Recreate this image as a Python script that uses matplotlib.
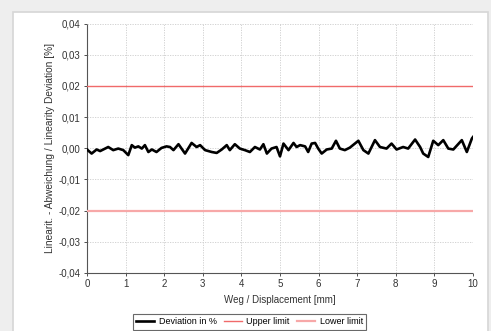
import matplotlib
matplotlib.use("Agg")
import matplotlib.pyplot as plt
from matplotlib.patches import Rectangle
from matplotlib.ticker import FuncFormatter

# Data
disp_mm = [0.00, 0.12, 0.25, 0.34, 0.47, 0.55, 0.68, 0.81, 0.94, 1.07, 1.16, 1.24, 1.33, 1.42,
           1.50, 1.59, 1.68, 1.80, 1.93, 2.06, 2.15, 2.24, 2.37, 2.54, 2.71, 2.84, 2.93, 3.06,
           3.23, 3.36, 3.49, 3.62, 3.70, 3.83, 3.96, 4.09, 4.22, 4.35, 4.48, 4.57, 4.66, 4.78,
           4.91, 5.00, 5.09, 5.22, 5.35, 5.43, 5.52, 5.65, 5.73, 5.82, 5.91, 5.99, 6.08, 6.21,
           6.34, 6.45, 6.55, 6.68, 6.81, 7.03, 7.16, 7.29, 7.46, 7.59, 7.76, 7.89, 8.02, 8.19,
           8.32, 8.50, 8.63, 8.71, 8.84, 8.97, 9.10, 9.23, 9.36, 9.49, 9.71, 9.84, 9.97, 10.0]
deviation_pct = [-0.0004, -0.0017, -0.0004, -0.0009, -0.0001, 0.0004, -0.0006, -0.0001, -0.0006,
                 -0.0022, 0.0010, 0.0002, 0.0006, -0.0001, 0.0010, -0.0012, -0.0004, -0.0012,
                 0.0001, 0.0006, 0.0004, -0.0006, 0.0013, -0.0017, 0.0017, 0.0004, 0.0010,
                 -0.0006, -0.0012, -0.0015, -0.0004, 0.0010, -0.0006, 0.0013, -0.0001, -0.0006,
                 -0.0012, 0.0004, -0.0004, 0.0013, -0.0017, -0.0001, 0.0004, -0.0026, 0.0015,
                 -0.0006, 0.0017, 0.0004, 0.0010, 0.0006, -0.0012, 0.0015, 0.0017, -0.0001,
                 -0.0017, -0.0004, -0.0001, 0.0024, -0.0001, -0.0006, 0.0002, 0.0024, -0.0006,
                 -0.0017, 0.0026, 0.0004, -0.0001, 0.0015, -0.0004, 0.0004, -0.0001, 0.0028,
                 0.0004, -0.0017, -0.0028, 0.0024, 0.0010, 0.0026, -0.0001, -0.0004, 0.0026,
                 -0.0012, 0.0031, 0.0036]
upper_limit = 0.02
lower_limit = -0.02
x_ticks = [0, 1, 2, 3, 4, 5, 6, 7, 8, 9, 10]
y_ticks = [-0.04, -0.03, -0.02, -0.01, 0.0, 0.01, 0.02, 0.03, 0.04]

plt.rcParams['font.family'] = ['Liberation Sans', 'DejaVu Sans']

W, H = 491, 331
fig = plt.figure(figsize=(W / 100, H / 100), dpi=100, facecolor='#eeeeee')
bg = Rectangle((13 / W, -0.01), (488 - 13) / W, 1 - 12 / H + 0.01,
               transform=fig.transFigure, facecolor='white',
               edgecolor='#d6d6d6', linewidth=1.2, zorder=-10)
fig.patches.append(bg)

ax = fig.add_axes([87 / W, 1 - 273 / H, (473 - 87) / W, (273 - 23.5) / H])
ax.set_facecolor('none')
ax.set_zorder(5)

ax.plot(disp_mm, deviation_pct, color='black', lw=1.9, label='Deviation in %', zorder=4)
ax.axhline(upper_limit, color='#f06a6a', lw=1.0, label='Upper limit', zorder=3)
ax.axhline(lower_limit, color='#f7a8a8', lw=1.6, label='Lower limit', zorder=3)

ax.set_xlim(0, 10)
ax.set_ylim(-0.04, 0.04)
ax.set_xticks(x_ticks)
ax.set_yticks(y_ticks)
ax.yaxis.set_major_formatter(FuncFormatter(lambda v, p: f"{v:.2f}".replace('.', ',')))

ax.grid(True, color='#cccccc', ls=(0, (1.5, 1.5)), lw=0.6)
for s in ['top', 'right']:
    ax.spines[s].set_visible(False)
for s in ['left', 'bottom']:
    ax.spines[s].set_color('#555555')
    ax.spines[s].set_linestyle((0, (1.2, 1.0)))
    ax.spines[s].set_linewidth(0.8)
ax.tick_params(labelsize=7.0, colors='#333333', length=2.5, width=0.6, pad=2)

ax.set_xlabel('Weg / Displacement [mm]', fontsize=7.0, color='#333333', labelpad=4)
ax.set_ylabel('Linearit. - Abweichung / Linearity Deviation [%]', fontsize=7.3,
              color='#333333', labelpad=3)

leg = fig.legend(loc='center', bbox_to_anchor=(249.5 / W, 1 - 322 / H), ncol=3,
                 fontsize=6.5, frameon=True, fancybox=False, edgecolor='#444444',
                 handlelength=2.0, handletextpad=0.5, columnspacing=0.8,
                 borderpad=0.35)
leg.get_frame().set_linewidth(0.8)
leg.set_zorder(6)

fig.savefig('out.png', dpi=100, facecolor=fig.get_facecolor())
